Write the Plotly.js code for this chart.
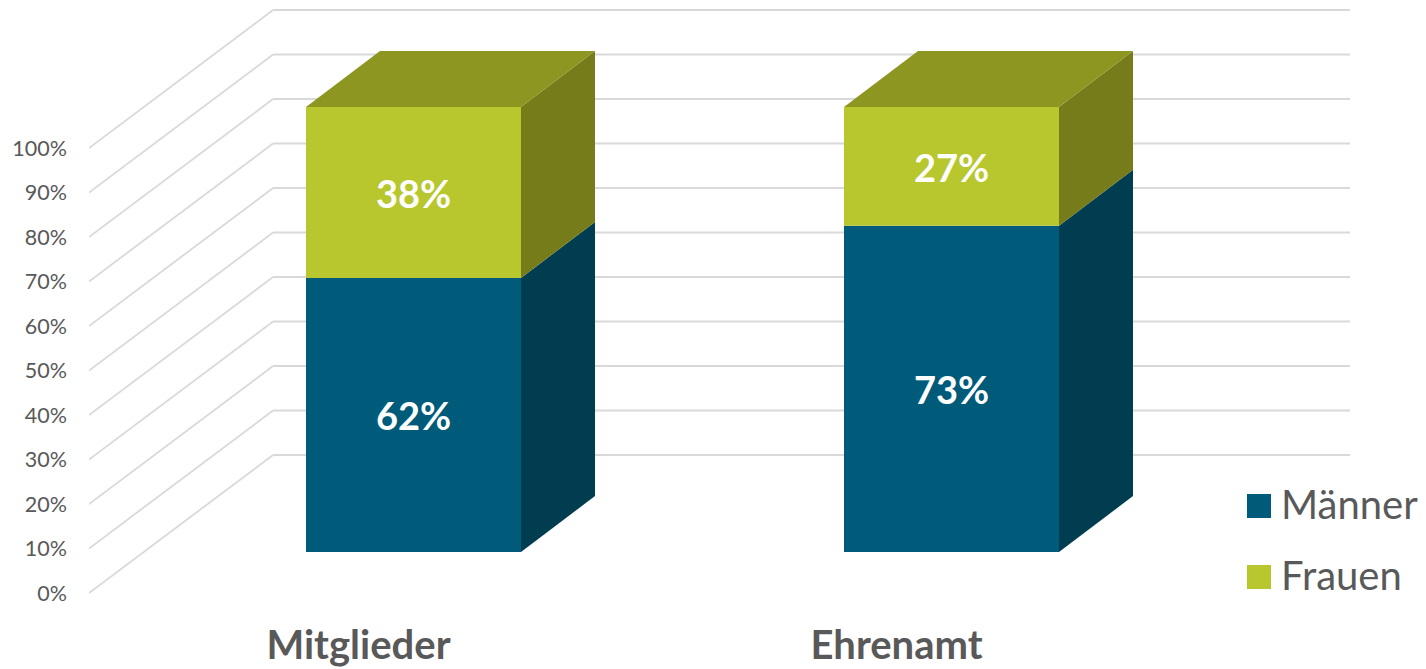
<!DOCTYPE html>
<html>
<head>
<meta charset="utf-8">
<script src="https://cdn.plot.ly/plotly-3.0.1.min.js"></script>
<style>html,body{margin:0;padding:0;background:#fff;overflow:hidden}#chart{width:1426px;height:669px}</style>
</head>
<body>
<div id="chart"></div>
<script>
// Data
const categories = ['Mitglieder', 'Ehrenamt'];
const maenner = [61.6, 73.3];
const frauen = [38.4, 26.7];
const percentTicks = [0, 10, 20, 30, 40, 50, 60, 70, 80, 90, 100];
const seriesNames = ['Männer', 'Frauen'];

// Scene geometry (x axis units = px, y axis units = percent)
const unit = 4.45, zeroPx = 593, plotBottomPx = 610;
const barCenters = [413.5, 951.5], barWidth = 215, labelShift = -55;
const barBase = 9.21, barDepthX = 74, barDepthY = 12.58;
const wallDepthX = 184, wallDepthY = 31, wallRight = 1350, wallLeft = 89;

const colors = {
  men: '#005B7A', menSide: '#003D50',
  women: '#B7C72D', womenSide: '#767C19', womenTop: '#8E9622',
  grid: '#D9D9D9', text: '#595959'
};
const font = 'Lato, Carlito, sans-serif';

function poly(xs, ys, color) {
  return {type:'scatter', mode:'lines', x:[...xs, xs[0]], y:[...ys, ys[0]], fill:'toself',
    fillcolor:color, line:{width:0, color:color}, hoverinfo:'skip', showlegend:false};
}

const base2 = maenner.map(v => v + barBase);
const traces = [
  {type:'bar', name:seriesNames[0], x:barCenters, y:maenner, base:barCenters.map(() => barBase), width:barWidth,
   marker:{color:colors.men, line:{width:0}}, hoverinfo:'y', showlegend:false},
  {type:'bar', name:seriesNames[1], x:barCenters, y:frauen, base:base2, width:barWidth,
   marker:{color:colors.women, line:{width:0}}, hoverinfo:'y', showlegend:false}
];

barCenters.forEach((c, i) => {
  const R = c + barWidth / 2, L = c - barWidth / 2;
  const y0 = barBase, y1 = base2[i], y2 = base2[i] + frauen[i];
  traces.push(poly([R, R + barDepthX, R + barDepthX, R], [y0, y0 + barDepthY, y1 + barDepthY, y1], colors.menSide));
  traces.push(poly([R, R + barDepthX, R + barDepthX, R], [y1, y1 + barDepthY, y2 + barDepthY, y2], colors.womenSide));
  traces.push(poly([L, R, R + barDepthX, L + barDepthX], [y2, y2, y2 + barDepthY, y2 + barDepthY], colors.womenTop));
});

// Legend keys
const legendX = 1259, legendText = 1282, legendY = [(zeroPx - 506) / unit, (zeroPx - 577) / unit];
traces.push({type:'scatter', mode:'markers', x:[legendX, legendX], y:legendY, hoverinfo:'skip', showlegend:false,
  marker:{symbol:'square', size:24, color:[colors.men, colors.women], line:{width:0}}});

const shapes = [];
percentTicks.forEach(t => {
  shapes.push({type:'line', layer:'below', xref:'x', yref:'y', x0:wallLeft, y0:t,
    x1:wallLeft + wallDepthX, y1:t + wallDepthY, line:{color:colors.grid, width:1.8}});
  shapes.push({type:'line', layer:'below', xref:'x', yref:'y', x0:wallLeft + wallDepthX, y0:t + wallDepthY,
    x1:wallRight, y1:t + wallDepthY, line:{color:colors.grid, width:2}});
});

const legendNotes = seriesNames.map((n, i) => ({xref:'x', yref:'y', x:legendText, y:legendY[i], text:n, showarrow:false,
  xanchor:'left', yanchor:'middle', xshift:-3, yshift:2, font:{family:font, size:40, color:colors.text}}));
const valueNotes = [];
barCenters.forEach((c, i) => {
  valueNotes.push({xref:'x', yref:'y', x:c, y:barBase + maenner[i] / 2, text:'<b>' + Math.round(maenner[i]) + '%</b>',
    showarrow:false, yshift:0, font:{family:font, size:38, color:'#fff'}});
  valueNotes.push({xref:'x', yref:'y', x:c, y:base2[i] + frauen[i] / 2, text:'<b>' + Math.round(frauen[i]) + '%</b>',
    showarrow:false, yshift:-1, font:{family:font, size:38, color:'#fff'}});
});

const layout = {
  width:1426, height:669, autosize:false,
  margin:{l:wallLeft, r:0, t:0, b:669 - plotBottomPx, pad:0},
  paper_bgcolor:'#fff', plot_bgcolor:'#fff',
  barmode:'overlay', showlegend:false, hovermode:false,
  xaxis:{range:[wallLeft, 1426], showgrid:false, zeroline:false, showline:false, ticks:'',
    tickmode:'array', tickvals:barCenters.map(c => c + labelShift), ticktext:categories.map(c => '<b>' + c + '</b>'),
    tickfont:{family:font, size:40, color:colors.text}, ticklabelstandoff:8, automargin:false, fixedrange:true},
  yaxis:{range:[(zeroPx - plotBottomPx) / unit, zeroPx / unit], showgrid:false, zeroline:false, showline:false,
    tickmode:'array', tickvals:percentTicks, ticktext:percentTicks.map(t => t + '%'), ticks:'',
    tickfont:{family:font, size:21.5, color:colors.text}, ticklabelstandoff:21, automargin:false, fixedrange:true},
  shapes:shapes,
  annotations:legendNotes.concat(valueNotes)
};

Plotly.newPlot('chart', traces, layout, {displayModeBar:false, staticPlot:true});
</script>
</body>
</html>
